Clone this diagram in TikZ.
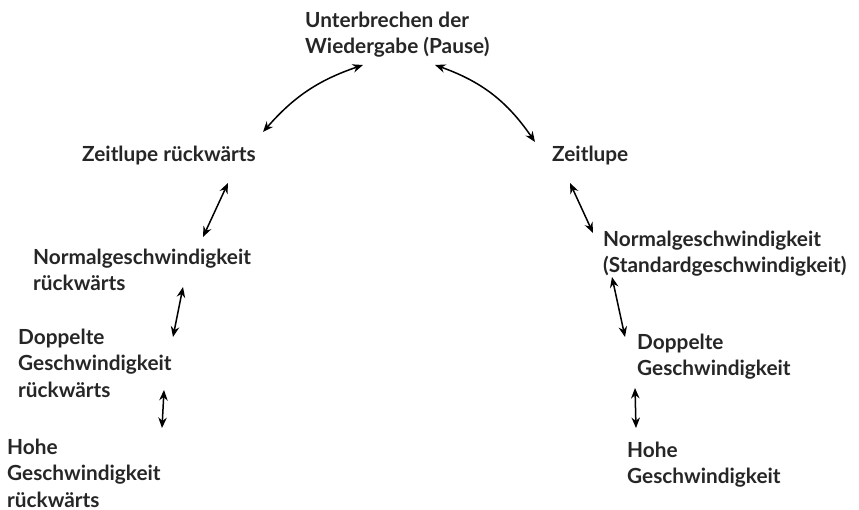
\documentclass[tikz,border=0pt]{standalone}
\usepackage{fontspec}
\setmainfont{Lato}
\usetikzlibrary{arrows.meta}
\definecolor{labelgray}{HTML}{262626}
\tikzset{
  mode/.style={anchor=north west, inner sep=0pt, align=left, text=labelgray,
    font=\bfseries\fontsize{20.8}{26.3}\selectfont},
  link/.style={{Stealth[length=10.5pt,width=8.5pt]}-{Stealth[length=10.5pt,width=8.5pt]}, line width=1.5pt}
}

\begin{document}
\begin{tikzpicture}[x=1pt,y=-1pt]
  \useasboundingbox (0,0) rectangle (859,510);
  % playback modes
  \node[mode] (pause) at (305,12) {Unterbrechen der\\Wiedergabe (Pause)};
  \node[mode] (zr) at (82,146) {Zeitlupe rückwärts};
  \node[mode] (zl) at (552,146) {Zeitlupe};
  \node[mode] (nr) at (33,249) {Normalgeschwindigkeit\\rückwärts};
  \node[mode] (ns) at (603,231) {Normalgeschwindigkeit\\(Standardgeschwindigkeit)};
  \node[mode] (dr) at (18,329) {Doppelte\\Geschwindigkeit\\rückwärts};
  \node[mode] (df) at (637,334) {Doppelte\\Geschwindigkeit};
  \node[mode] (hr) at (7,439) {Hohe\\Geschwindigkeit\\rückwärts};
  \node[mode] (hf) at (627,442) {Hohe\\Geschwindigkeit};
  % transitions
  \draw[link] ([shift={(58,53)}]pause.north west) to[bend right=15] ([shift={(181,-14)}]zr.north west);
  \draw[link] ([shift={(130,53)}]pause.north west) to[bend left=18] ([shift={(-17,-4)}]zl.north west);
  \draw[link] ([shift={(146,37)}]zr.north west) -- ([shift={(170,-12)}]nr.north west);
  \draw[link] ([shift={(150,38)}]nr.north west) -- ([shift={(155,8)}]dr.north west);
  \draw[link] ([shift={(146,61)}]dr.north west) -- ([shift={(155,-11)}]hr.north west);
  \draw[link] ([shift={(18,37)}]zl.north west) -- ([shift={(-10,2)}]ns.north west);
  \draw[link] ([shift={(9,46)}]ns.north west) -- ([shift={(-12,3)}]df.north west);
  \draw[link] ([shift={(-2,54)}]df.north west) -- ([shift={(9,-14)}]hf.north west);
\end{tikzpicture}
\end{document}
